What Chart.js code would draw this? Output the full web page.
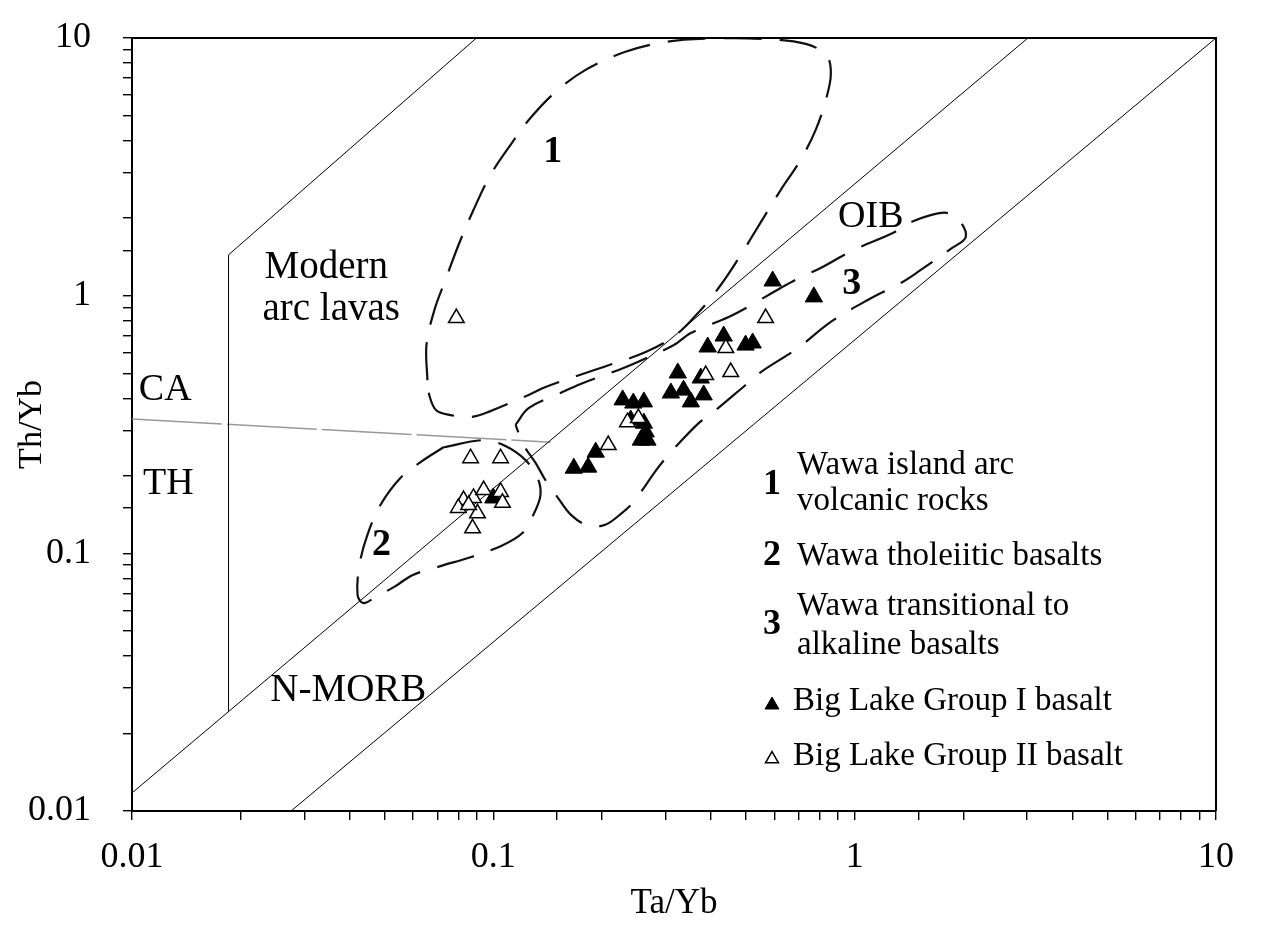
<!DOCTYPE html>
<html>
<head>
<meta charset="utf-8">
<title>Th/Yb vs Ta/Yb</title>
<script src="https://cdn.jsdelivr.net/npm/chart.js@4.4.0/dist/chart.umd.min.js"></script>
<style>
  html, body { margin: 0; padding: 0; background: #fff; }
  #wrap { width: 1280px; height: 929px; }
</style>
</head>
<body>
<div id="wrap"><canvas id="chart" width="1280" height="929"></canvas></div>
<script>
// Axis decades shown with labels
const decadeTicks = [0.01, 0.1, 1, 10];
const decadeLabels = ['0.01', '0.1', '1', '10'];

// Big Lake Group I basalt (filled triangles)
const groupI_TaYb = [0.593, 0.771, 0.434, 0.392, 0.499, 0.522, 0.324, 0.375, 0.310, 0.336, 0.352, 0.382,
                     0.228, 0.244, 0.261, 0.240, 0.261, 0.264, 0.267, 0.256, 0.192, 0.167, 0.183, 0.100];
const groupI_ThYb = [1.14, 0.989, 0.697, 0.632, 0.643, 0.655, 0.501, 0.479, 0.419, 0.430, 0.387, 0.412,
                     0.394, 0.383, 0.387, 0.329, 0.320, 0.296, 0.275, 0.275, 0.247, 0.214, 0.216, 0.164];

// Big Lake Group II basalt (open triangles)
const groupII_TaYb = [0.079, 0.567, 0.440, 0.454, 0.387, 0.235, 0.252, 0.208, 0.0865, 0.1047,
                      0.0827, 0.0881, 0.094, 0.1047, 0.106, 0.080, 0.0904, 0.0876, 0.0854];
const groupII_ThYb = [0.819, 0.819, 0.626, 0.505, 0.492, 0.323, 0.335, 0.263, 0.234, 0.234,
                      0.161, 0.164, 0.176, 0.173, 0.157, 0.150, 0.143, 0.125, 0.154];

// Reference lines (MORB-OIB array, arc boundary, CA/TH divide)
const arrayUpper_TaYb = [0.01, 3.016];
const arrayUpper_ThYb = [0.01175, 10];
const arrayLower_TaYb = [0.02756, 10];
const arrayLower_ThYb = [0.01, 10];
const arcBound_TaYb = [0.0185, 0.0185, 0.0898];
const arcBound_ThYb = [0.0243, 1.44, 10];
const caTh_TaYb = [0.01, 0.144];
const caTh_ThYb = [0.332, 0.270];

// Field 1: Wawa island arc volcanic rocks
const field1_TaYb = [0.0657, 0.0653, 0.0687, 0.0737, 0.0801, 0.0881, 0.0982, 0.1116, 0.1268, 0.1487, 0.180,
                     0.232, 0.300, 0.400, 0.550, 0.732, 0.837, 0.859, 0.832, 0.780, 0.709, 0.624, 0.550,
                     0.484, 0.426, 0.375, 0.320, 0.264, 0.202, 0.180, 0.1395, 0.1252, 0.097, 0.0865,
                     0.0761, 0.0695, 0.0666, 0.0657];
const field1_ThYb = [0.470, 0.643, 0.880, 1.151, 1.573, 2.15, 2.94, 3.85, 4.90, 6.18, 7.52,
                     8.84, 9.66, 9.95, 9.93, 9.49, 8.53, 7.20, 5.75, 4.40, 3.37, 2.57, 1.93,
                     1.44, 1.10, 0.880, 0.704, 0.604, 0.529, 0.501, 0.442, 0.412, 0.354, 0.338,
                     0.344, 0.359, 0.408, 0.470];

// Field 2: Wawa tholeiitic basalts
const field2_TaYb = [0.0728, 0.094, 0.108, 0.1228, 0.1326, 0.135, 0.129, 0.1204, 0.1047, 0.0865, 0.0714,
                     0.0597, 0.0536, 0.0472, 0.0437, 0.0421, 0.0426, 0.0448, 0.0487, 0.0553, 0.0629, 0.0728];
const field2_ThYb = [0.258, 0.275, 0.261, 0.230, 0.196, 0.168, 0.141, 0.120, 0.1066, 0.0966, 0.0892,
                     0.0823, 0.0746, 0.0676, 0.0641, 0.0688, 0.090, 0.1177, 0.154, 0.196, 0.226, 0.258];

// Field 3: Wawa transitional to alkaline basalts
const field3_TaYb = [0.1152, 0.1252, 0.1535, 0.1744, 0.222, 0.251, 0.316, 0.352, 0.448, 0.506, 0.624, 0.709,
                     0.805, 0.994, 1.275, 1.43, 1.765, 1.94, 2.03, 1.845, 1.496, 1.342, 1.087, 0.859, 0.696,
                     0.550, 0.499, 0.407, 0.370, 0.310, 0.285, 0.244, 0.225, 0.204, 0.183, 0.164, 0.1506,
                     0.1395, 0.131, 0.1213, 0.1152];
const field3_ThYb = [0.315, 0.366, 0.419, 0.454, 0.515, 0.553, 0.643, 0.716, 0.827, 0.904, 1.071, 1.18,
                     1.28, 1.505, 1.75, 1.93, 2.10, 1.97, 1.69, 1.52, 1.236, 1.12, 0.962, 0.791, 0.626,
                     0.505, 0.450, 0.354, 0.320, 0.247, 0.214, 0.158, 0.142, 0.129, 0.128, 0.141, 0.165,
                     0.192, 0.224, 0.263, 0.315];

// Text placed inside the plot (data coordinates)
const plotLabels = [
  { text: 'Modern', x: 0.0345, y: 1.28, size: 39 },
  { text: 'arc lavas', x: 0.0356, y: 0.88, size: 39 },
  { text: 'CA', x: 0.01236, y: 0.430, size: 38 },
  { text: 'TH', x: 0.0126, y: 0.185, size: 38 },
  { text: 'OIB', x: 1.108, y: 2.02, size: 38 },
  { text: 'N-MORB', x: 0.0397, y: 0.0294, size: 39 },
  { text: '1', x: 0.146, y: 3.61, size: 38, bold: true },
  { text: '2', x: 0.049, y: 0.1076, size: 38, bold: true },
  { text: '3', x: 0.982, y: 1.11, size: 38, bold: true }
];

const serif = "'Liberation Serif', 'Times New Roman', serif";

function pairs(xs, ys) {
  return xs.map((x, i) => ({ x: x, y: ys[i] }));
}

function decadeLabel(v) {
  const i = decadeTicks.findIndex(t => Math.abs(Math.log10(t) - Math.log10(v)) < 1e-6);
  return i >= 0 ? decadeLabels[i] : '';
}

function refLine(xs, ys, extra) {
  return Object.assign({
    data: pairs(xs, ys),
    showLine: true,
    borderColor: '#000',
    borderWidth: 1,
    pointRadius: 0,
    tension: 0,
    order: 10
  }, extra || {});
}

function field(xs, ys) {
  return {
    data: pairs(xs, ys),
    showLine: true,
    borderColor: '#111',
    borderWidth: 2.2,
    borderDash: [38, 18],
    pointRadius: 0,
    tension: 0.35,
    order: 8
  };
}

function drawTri(ctx, cx, cy, r) {
  for (let k = 0; k < 3; k++) {
    const ang = -Math.PI / 2 + k * 2 * Math.PI / 3;
    const px = cx + Math.cos(ang) * r, py = cy + Math.sin(ang) * r;
    if (k === 0) ctx.moveTo(px, py); else ctx.lineTo(px, py);
  }
  ctx.closePath();
}

// frame, labels and legend
const overlay = {
  id: 'overlay',
  afterDatasetsDraw(chart) {
    const { ctx, chartArea: a, scales: { x, y } } = chart;
    ctx.save();
    ctx.strokeStyle = '#000';
    ctx.lineWidth = 2;
    ctx.beginPath();
    ctx.moveTo(a.left, a.top);
    ctx.lineTo(a.right, a.top);
    ctx.lineTo(a.right, a.bottom);
    ctx.stroke();

    ctx.fillStyle = '#000';
    ctx.textBaseline = 'middle';
    ctx.textAlign = 'center';
    plotLabels.forEach(l => {
      ctx.font = (l.bold ? 'bold ' : '') + l.size + 'px ' + serif;
      ctx.fillText(l.text, x.getPixelForValue(l.x), y.getPixelForValue(l.y));
    });

    // legend block, offsets from the plot's top-left corner
    const lx = a.left + 640, tx = a.left + 665, mx = a.left + 661;
    const top = a.top;
    const num = (t, dy) => {
      ctx.font = 'bold 36px ' + serif;
      ctx.textAlign = 'center';
      ctx.fillText(t, lx, top + dy);
    };
    const txt = (t, xx, dy) => {
      ctx.font = '33px ' + serif;
      ctx.textAlign = 'left';
      ctx.fillText(t, xx, top + dy);
    };
    num('1', 447); txt('Wawa island arc', tx, 427); txt('volcanic rocks', tx, 463);
    num('2', 518); txt('Wawa tholeiitic basalts', tx, 518);
    num('3', 587); txt('Wawa transitional to', tx, 568); txt('alkaline basalts', tx, 607);

    ctx.fillStyle = '#000';
    ctx.strokeStyle = '#000';
    ctx.lineWidth = 1;
    ctx.beginPath();
    drawTri(ctx, lx, top + 667, 8);
    ctx.fill();
    ctx.stroke();
    ctx.fillStyle = '#fff';
    ctx.lineWidth = 1.5;
    ctx.beginPath();
    drawTri(ctx, lx, top + 721, 7.5);
    ctx.fill();
    ctx.stroke();
    ctx.fillStyle = '#000';
    txt('Big Lake Group I basalt', mx, 663);
    txt('Big Lake Group II basalt', mx, 718);
    ctx.restore();
  }
};

const axisCommon = {
  type: 'logarithmic',
  min: 0.01,
  max: 10,
  border: { display: true, color: '#000', width: 2 },
  grid: { drawOnChartArea: false, drawTicks: true, tickLength: 9, color: '#000', lineWidth: 1.4 },
};

new Chart(document.getElementById('chart'), {
  type: 'scatter',
  data: {
    datasets: [
      {
        label: 'Big Lake Group I basalt',
        data: pairs(groupI_TaYb, groupI_ThYb),
        pointStyle: 'triangle',
        pointRadius: 10,
        backgroundColor: '#000',
        borderColor: '#000',
        borderWidth: 1,
        order: 1
      },
      {
        label: 'Big Lake Group II basalt',
        data: pairs(groupII_TaYb, groupII_ThYb),
        pointStyle: 'triangle',
        pointRadius: 9,
        backgroundColor: '#fff',
        borderColor: '#000',
        borderWidth: 1.5,
        order: 0
      },
      field(field1_TaYb, field1_ThYb),
      field(field2_TaYb, field2_ThYb),
      field(field3_TaYb, field3_ThYb),
      refLine(arrayUpper_TaYb, arrayUpper_ThYb),
      refLine(arrayLower_TaYb, arrayLower_ThYb),
      refLine(arcBound_TaYb, arcBound_ThYb),
      refLine(caTh_TaYb, caTh_ThYb, { borderColor: '#999', borderWidth: 1.6, borderDash: [90, 5] })
    ]
  },
  options: {
    responsive: false,
    animation: false,
    devicePixelRatio: 1,
    layout: { padding: { left: 0, right: 64, top: 38, bottom: 0 } },
    plugins: { legend: { display: false }, tooltip: { enabled: false } },
    scales: {
      x: Object.assign({}, axisCommon, {
        position: 'bottom',
        afterFit: s => { s.height = 118; s.paddingLeft = 0; s.paddingRight = 0; },
        ticks: { autoSkip: false, maxRotation: 0, padding: 16, color: '#000',
                 font: { family: serif, size: 36 }, callback: decadeLabel },
        title: { display: true, text: 'Ta/Yb', color: '#000',
                 font: { family: serif, size: 35 }, padding: { top: 0, bottom: 4 } }
      }),
      y: Object.assign({}, axisCommon, {
        position: 'left',
        afterFit: s => { s.width = 132; s.paddingTop = 0; s.paddingBottom = 0; },
        ticks: { autoSkip: false, padding: 32, color: '#000',
                 font: { family: serif, size: 36 }, callback: decadeLabel },
        title: { display: true, text: 'Th/Yb', color: '#000',
                 font: { family: serif, size: 34 }, padding: { top: 12, bottom: 0 } }
      })
    }
  },
  plugins: [overlay]
});
</script>
</body>
</html>
